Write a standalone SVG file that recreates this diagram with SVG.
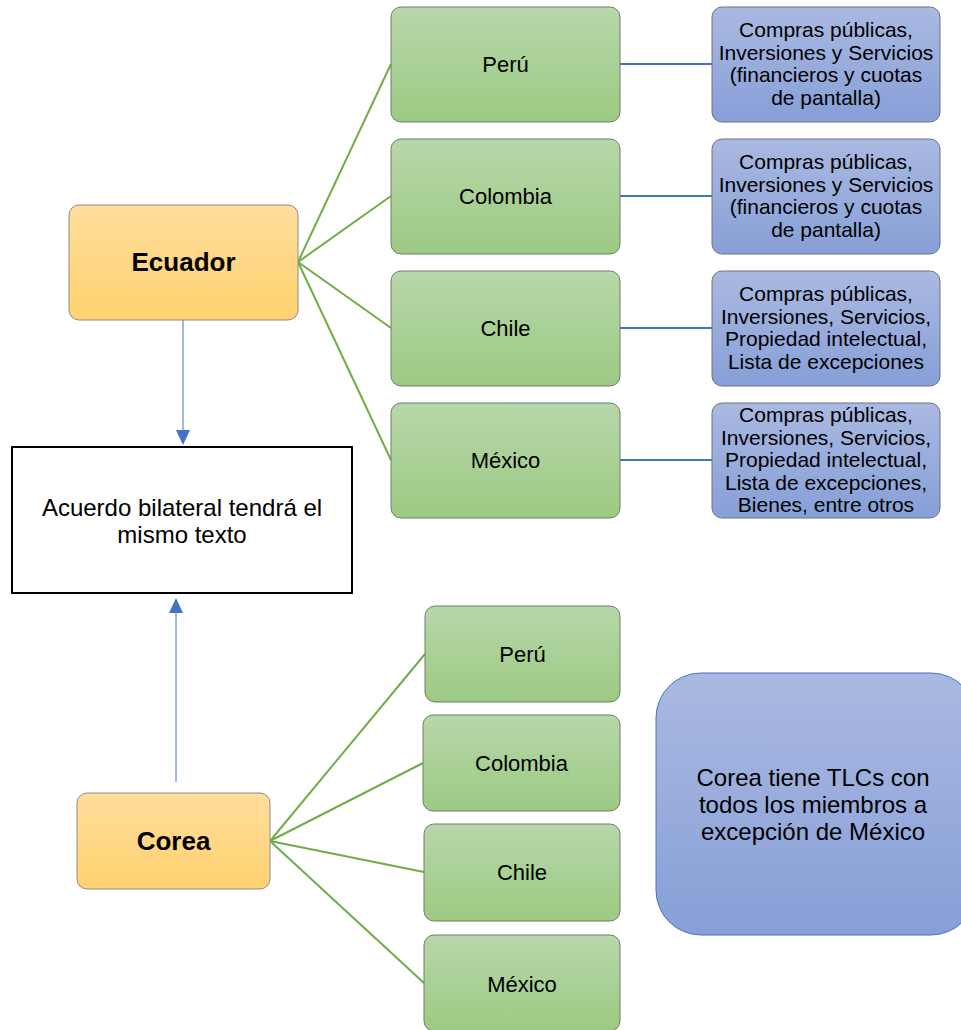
<svg xmlns="http://www.w3.org/2000/svg" width="961" height="1030" viewBox="0 0 961 1030">
<defs>
<linearGradient id="gOr" x1="0" y1="0" x2="0" y2="1"><stop offset="0" stop-color="#FFDD9C"/><stop offset="1" stop-color="#FFD26F"/></linearGradient>
<linearGradient id="gGr" x1="0" y1="0" x2="0" y2="1"><stop offset="0" stop-color="#B7D7A9"/><stop offset="1" stop-color="#9CCA83"/></linearGradient>
<linearGradient id="gBl" x1="0" y1="0" x2="0" y2="1"><stop offset="0" stop-color="#AAB9E1"/><stop offset="1" stop-color="#879FD7"/></linearGradient>
<style>
.or{fill:url(#gOr);stroke:#8C8C8C;stroke-width:1}
.gr{fill:url(#gGr);stroke:#6F7F68;stroke-width:1}
.bl{fill:url(#gBl);stroke:#6E7380;stroke-width:1}
.note{fill:url(#gBl);stroke:#4472C4;stroke-width:1}
text{font-family:"Liberation Sans",Arial,sans-serif;fill:#000;text-anchor:middle}
.t21{font-size:21px}
.t22{font-size:22px}
.t24{font-size:24px}
.b{font-size:26px;font-weight:bold}
.gl{stroke:#70AD47;stroke-width:2;fill:none}
.bln{stroke:#4472C4;stroke-width:2;fill:none}
.ar{stroke:#4472C4;stroke-width:1;fill:none}
.ah{fill:#4472C4}
</style>
</defs>
<g id="connectors">
<line class="gl" x1="298" y1="262" x2="391" y2="64"/>
<line class="gl" x1="298" y1="262" x2="391" y2="196"/>
<line class="gl" x1="298" y1="262" x2="391" y2="328"/>
<line class="gl" x1="298" y1="262" x2="391" y2="460"/>
<line class="bln" x1="620" y1="64" x2="712" y2="64"/>
<line class="bln" x1="620" y1="196" x2="712" y2="196"/>
<line class="bln" x1="620" y1="328" x2="712" y2="328"/>
<line class="bln" x1="620" y1="460" x2="712" y2="460"/>
<line class="ar" x1="183" y1="320" x2="183" y2="436"/>
<path class="ah" d="M176,430 L190,430 L183,445 z"/>
<line class="ar" x1="176" y1="782" x2="176" y2="608"/>
<path class="ah" d="M169,613 L183,613 L176,598 z"/>
<line class="gl" x1="270" y1="841" x2="425" y2="654"/>
<line class="gl" x1="270" y1="841" x2="423" y2="763"/>
<line class="gl" x1="270" y1="841" x2="424" y2="872"/>
<line class="gl" x1="270" y1="841" x2="424" y2="983"/>
</g>
<g id="ecuador"><rect class="or" x="69" y="205" width="229" height="115" rx="10"/><text class="b" x="183.5" y="271">Ecuador</text></g>
<g id="peru1"><rect class="gr" x="391" y="7" width="229" height="115" rx="10"/><text class="t22" x="505.5" y="72">Perú</text></g>
<g id="colombia1"><rect class="gr" x="391" y="139" width="229" height="115" rx="10"/><text class="t22" x="505.5" y="204">Colombia</text></g>
<g id="chile1"><rect class="gr" x="391" y="271" width="229" height="115" rx="10"/><text class="t22" x="505.5" y="336">Chile</text></g>
<g id="mexico1"><rect class="gr" x="391" y="403" width="229" height="115" rx="10"/><text class="t22" x="505.5" y="468">México</text></g>
<g id="det1"><rect class="bl" x="712" y="7" width="228" height="115" rx="10"/>
<text class="t21" x="826"><tspan x="826" y="37">Compras públicas,</tspan><tspan x="826" y="59.5">Inversiones y Servicios</tspan><tspan x="826" y="82">(financieros y cuotas</tspan><tspan x="826" y="104.5">de pantalla)</tspan></text></g>
<g id="det2"><rect class="bl" x="712" y="139" width="228" height="115" rx="10"/>
<text class="t21" x="826"><tspan x="826" y="169">Compras públicas,</tspan><tspan x="826" y="191.5">Inversiones y Servicios</tspan><tspan x="826" y="214">(financieros y cuotas</tspan><tspan x="826" y="236.5">de pantalla)</tspan></text></g>
<g id="det3"><rect class="bl" x="712" y="271" width="228" height="115" rx="10"/>
<text class="t21" x="826"><tspan x="826" y="301">Compras públicas,</tspan><tspan x="826" y="323.5">Inversiones, Servicios,</tspan><tspan x="826" y="346">Propiedad intelectual,</tspan><tspan x="826" y="368.5">Lista de excepciones</tspan></text></g>
<g id="det4"><rect class="bl" x="712" y="403" width="228" height="115" rx="10"/>
<text class="t21" x="826"><tspan x="826" y="422">Compras públicas,</tspan><tspan x="826" y="444.5">Inversiones, Servicios,</tspan><tspan x="826" y="467">Propiedad intelectual,</tspan><tspan x="826" y="489.5">Lista de excepciones,</tspan><tspan x="826" y="512">Bienes, entre otros</tspan></text></g>
<g id="acuerdo"><rect x="12" y="447" width="340" height="146" fill="#fff" stroke="#000" stroke-width="2"/>
<text class="t24" x="182"><tspan x="182" y="516">Acuerdo bilateral tendrá el</tspan><tspan x="182" y="543">mismo texto</tspan></text></g>
<g id="corea"><rect class="or" x="77" y="793" width="193" height="96" rx="10"/><text class="b" x="173.5" y="850">Corea</text></g>
<g id="peru2"><rect class="gr" x="425" y="606" width="195" height="96" rx="10"/><text class="t22" x="522.5" y="662">Perú</text></g>
<g id="colombia2"><rect class="gr" x="423" y="715" width="197" height="96" rx="10"/><text class="t22" x="521.5" y="771">Colombia</text></g>
<g id="chile2"><rect class="gr" x="424" y="824" width="196" height="97" rx="10"/><text class="t22" x="522" y="880">Chile</text></g>
<g id="mexico2"><rect class="gr" x="424" y="935" width="196" height="96" rx="10"/><text class="t22" x="522" y="992">México</text></g>
<g id="nota"><rect class="note" x="656" y="673" width="320" height="262" rx="45"/>
<text class="t24" x="813"><tspan x="813" y="786">Corea tiene TLCs con</tspan><tspan x="813" y="813">todos los miembros a</tspan><tspan x="813" y="840">excepción de México</tspan></text></g>
</svg>
